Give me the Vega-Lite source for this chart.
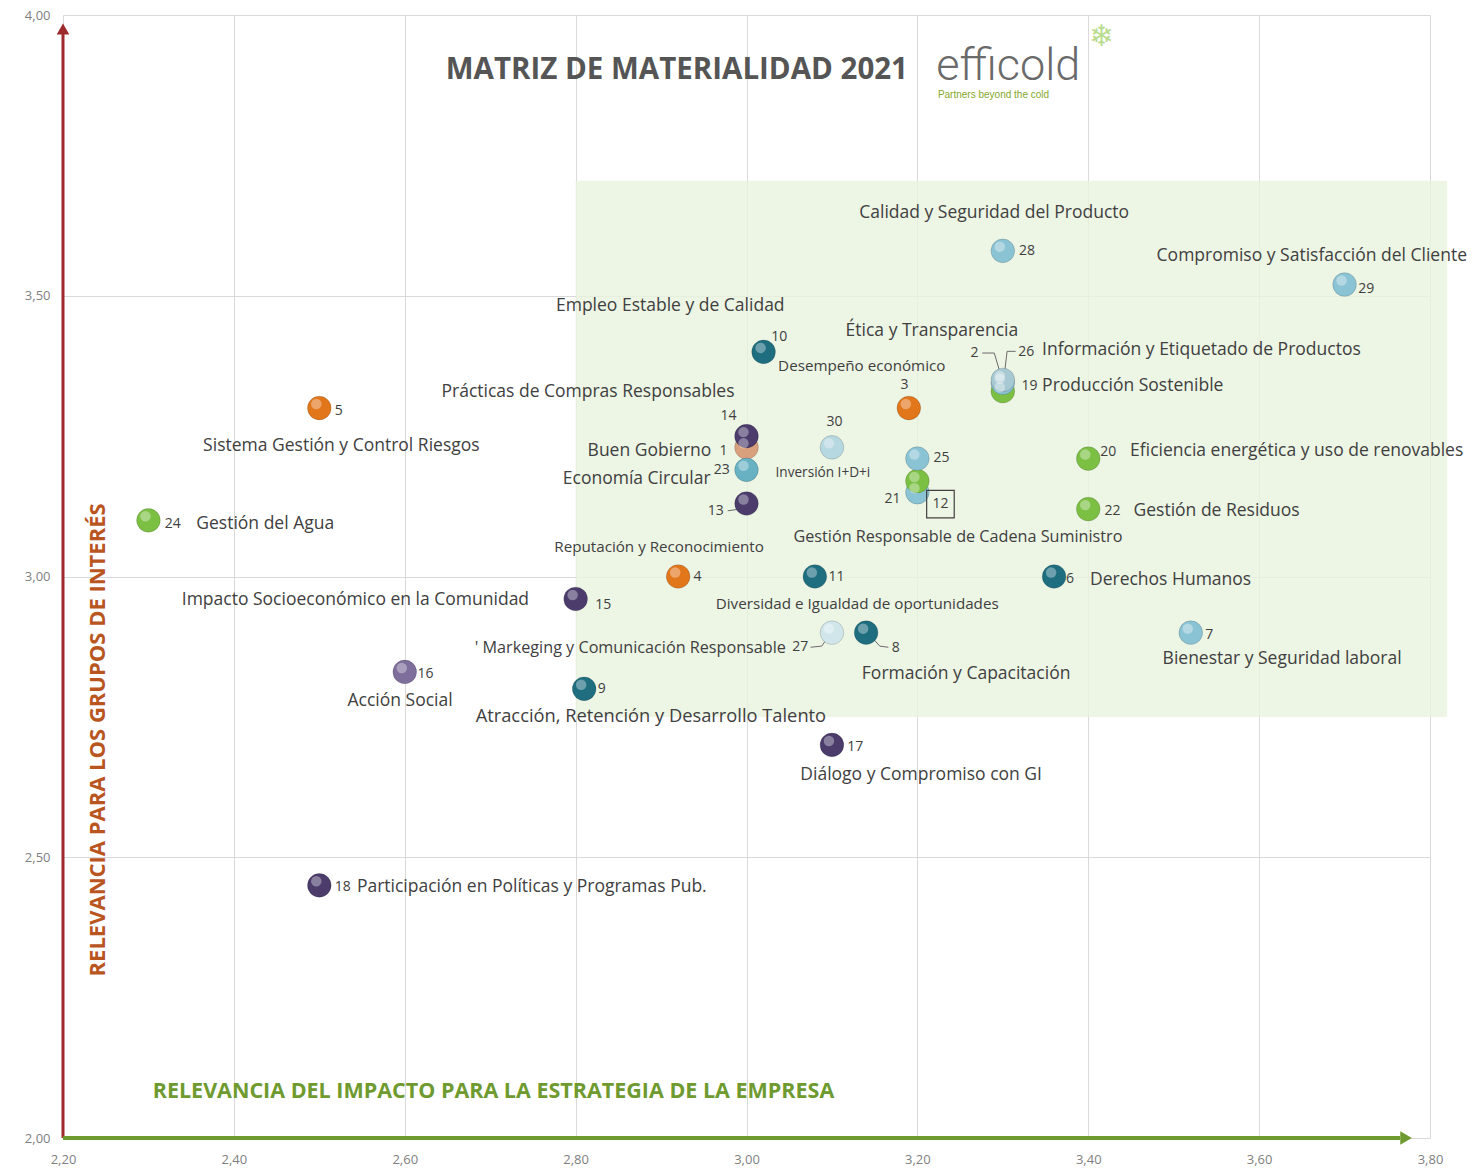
{
  "$schema": "https://vega.github.io/schema/vega-lite/v6.json",
  "width": 1367,
  "height": 1123,
  "autosize": {"type": "none"},
  "padding": {"left": 63, "top": 15, "right": 45, "bottom": 33},
  "background": "white",
  "config": {"view": {"stroke": null}},
  "datasets": {
    "zona": [{"x": 2.8, "x2": 3.82, "y": 2.75, "y2": 3.705}],
    "eje_y": [{"x": 2.2, "y": 2.0, "y2": 3.97}],
    "punta_y": [{"x": 2.2, "y": 3.975}],
    "eje_x": [{"x": 2.2, "x2": 3.765, "y": 2.0}],
    "punta_x": [{"x": 3.772, "y": 2.0}],
    "temas": [
      {"num": 1, "x": 3.00, "y": 3.23, "dim": "Gobernanza"},
      {"num": 19, "x": 3.30, "y": 3.33, "dim": "Ambiental"},
      {"num": 2, "x": 3.30, "y": 3.345, "dim": "Producto"},
      {"num": 26, "x": 3.30, "y": 3.35, "dim": "Etiquetado"},
      {"num": 12, "x": 3.20, "y": 3.15, "dim": "Producto"},
      {"num": 21, "x": 3.20, "y": 3.17, "dim": "Ambiental"},
      {"num": 3, "x": 3.19, "y": 3.30, "dim": "Económica"},
      {"num": 4, "x": 2.92, "y": 3.00, "dim": "Económica"},
      {"num": 5, "x": 2.50, "y": 3.30, "dim": "Económica"},
      {"num": 6, "x": 3.36, "y": 3.00, "dim": "Laboral"},
      {"num": 7, "x": 3.52, "y": 2.90, "dim": "Producto"},
      {"num": 8, "x": 3.14, "y": 2.90, "dim": "Laboral"},
      {"num": 9, "x": 2.81, "y": 2.80, "dim": "Laboral"},
      {"num": 10, "x": 3.02, "y": 3.40, "dim": "Laboral"},
      {"num": 11, "x": 3.08, "y": 3.00, "dim": "Laboral"},
      {"num": 13, "x": 3.00, "y": 3.13, "dim": "Social"},
      {"num": 14, "x": 3.00, "y": 3.25, "dim": "Social"},
      {"num": 23, "x": 3.00, "y": 3.19, "dim": "Circular"},
      {"num": 15, "x": 2.80, "y": 2.96, "dim": "Social"},
      {"num": 16, "x": 2.60, "y": 2.83, "dim": "Comunidad"},
      {"num": 17, "x": 3.10, "y": 2.70, "dim": "Social"},
      {"num": 18, "x": 2.50, "y": 2.45, "dim": "Social"},
      {"num": 20, "x": 3.40, "y": 3.21, "dim": "Ambiental"},
      {"num": 22, "x": 3.40, "y": 3.12, "dim": "Ambiental"},
      {"num": 24, "x": 2.30, "y": 3.10, "dim": "Ambiental"},
      {"num": 25, "x": 3.20, "y": 3.21, "dim": "Producto"},
      {"num": 27, "x": 3.10, "y": 2.90, "dim": "Cliente"},
      {"num": 28, "x": 3.30, "y": 3.58, "dim": "Producto"},
      {"num": 29, "x": 3.70, "y": 3.52, "dim": "Producto"},
      {"num": 30, "x": 3.10, "y": 3.23, "dim": "Innovación"}
    ],
    "guias": [
      {"id": "g2", "o": 1, "x": 3.276, "y": 3.398},
      {"id": "g2", "o": 2, "x": 3.290, "y": 3.398},
      {"id": "g2", "o": 3, "x": 3.297, "y": 3.362},
      {"id": "g26", "o": 1, "x": 3.315, "y": 3.401},
      {"id": "g26", "o": 2, "x": 3.305, "y": 3.401},
      {"id": "g26", "o": 3, "x": 3.302, "y": 3.362},
      {"id": "g13", "o": 1, "x": 2.978, "y": 3.117},
      {"id": "g13", "o": 2, "x": 2.992, "y": 3.120},
      {"id": "g27", "o": 1, "x": 3.075, "y": 2.874},
      {"id": "g27", "o": 2, "x": 3.088, "y": 2.876},
      {"id": "g27", "o": 3, "x": 3.096, "y": 2.893},
      {"id": "g8", "o": 1, "x": 3.166, "y": 2.874},
      {"id": "g8", "o": 2, "x": 3.156, "y": 2.876},
      {"id": "g8", "o": 3, "x": 3.146, "y": 2.893}
    ],
    "nombres": [
      {"t": "Calidad y Seguridad del Producto", "x": 3.132, "y": 3.647},
      {"t": "Compromiso y Satisfacción del Cliente", "x": 3.480, "y": 3.571},
      {"t": "Empleo Estable y de Calidad", "x": 2.777, "y": 3.482},
      {"t": "Ética y Transparencia", "x": 3.116, "y": 3.437},
      {"t": "Información y Etiquetado de Productos", "x": 3.346, "y": 3.403},
      {"t": "Producción Sostenible", "x": 3.346, "y": 3.339},
      {"t": "Prácticas de Compras Responsables", "x": 2.643, "y": 3.329},
      {"t": "Sistema Gestión y Control Riesgos", "x": 2.364, "y": 3.232},
      {"t": "Buen Gobierno", "x": 2.814, "y": 3.224},
      {"t": "Eficiencia energética y uso de renovables", "x": 3.449, "y": 3.224},
      {"t": "Economía Circular", "x": 2.785, "y": 3.174},
      {"t": "Gestión del Agua", "x": 2.356, "y": 3.094},
      {"t": "Gestión de Residuos", "x": 3.453, "y": 3.117},
      {"t": "Derechos Humanos", "x": 3.402, "y": 2.994},
      {"t": "Impacto Socioeconómico en la Comunidad", "x": 2.339, "y": 2.958},
      {"t": "Bienestar y Seguridad laboral", "x": 3.487, "y": 2.853},
      {"t": "Formación y Capacitación", "x": 3.135, "y": 2.826},
      {"t": "Acción Social", "x": 2.533, "y": 2.778},
      {"t": "Diálogo y Compromiso con GI", "x": 3.063, "y": 2.646},
      {"t": "Participación en Políticas y Programas Pub.", "x": 2.544, "y": 2.447}
    ],
    "nombres_grandes": [
      {"t": "Atracción, Retención y Desarrollo Talento", "x": 2.683, "y": 2.750}
    ],
    "nombres_medianos": [
      {"t": "Gestión Responsable de Cadena Suministro", "x": 3.055, "y": 3.070},
      {"t": "' Markeging y Comunicación Responsable", "x": 2.682, "y": 2.873}
    ],
    "nombres_peq": [
      {"t": "Desempeño económico", "x": 3.037, "y": 3.375},
      {"t": "Reputación y Reconocimiento", "x": 2.775, "y": 3.053},
      {"t": "Diversidad e Igualdad de oportunidades", "x": 2.964, "y": 2.951}
    ],
    "nombres_min": [
      {"t": "Inversión I+D+i", "x": 3.034, "y": 3.184}
    ],
    "numeros_izq": [
      {"t": "28", "x": 3.319, "y": 3.580},
      {"t": "29", "x": 3.716, "y": 3.512},
      {"t": "10", "x": 3.029, "y": 3.427},
      {"t": "26", "x": 3.318, "y": 3.400},
      {"t": "19", "x": 3.322, "y": 3.339},
      {"t": "5", "x": 2.518, "y": 3.295},
      {"t": "25", "x": 3.219, "y": 3.211},
      {"t": "20", "x": 3.414, "y": 3.222},
      {"t": "24", "x": 2.319, "y": 3.094},
      {"t": "22", "x": 3.419, "y": 3.117},
      {"t": "4", "x": 2.938, "y": 2.999},
      {"t": "11", "x": 3.096, "y": 2.999},
      {"t": "6", "x": 3.374, "y": 2.996},
      {"t": "15", "x": 2.823, "y": 2.949},
      {"t": "7", "x": 3.537, "y": 2.896},
      {"t": "8", "x": 3.170, "y": 2.873},
      {"t": "16", "x": 2.615, "y": 2.826},
      {"t": "9", "x": 2.826, "y": 2.800},
      {"t": "17", "x": 3.118, "y": 2.696},
      {"t": "18", "x": 2.518, "y": 2.447}
    ],
    "numeros_centro": [
      {"t": "2", "x": 3.267, "y": 3.398},
      {"t": "3", "x": 3.185, "y": 3.341},
      {"t": "14", "x": 2.979, "y": 3.286},
      {"t": "30", "x": 3.103, "y": 3.275},
      {"t": "1", "x": 2.973, "y": 3.224},
      {"t": "23", "x": 2.971, "y": 3.190},
      {"t": "21", "x": 3.171, "y": 3.138},
      {"t": "12", "x": 3.227, "y": 3.129},
      {"t": "13", "x": 2.964, "y": 3.117},
      {"t": "27", "x": 3.063, "y": 2.874}
    ],
    "caja": [{"x": 3.227, "y": 3.129}],
    "titulo": [{"t": "MATRIZ DE MATERIALIDAD 2021", "x": 2.648, "y": 3.902}],
    "marca": [{"t": "efficold", "x": 3.222, "y": 3.910}],
    "lema": [{"t": "Partners beyond the cold", "x": 3.224, "y": 3.857}],
    "copo": [{"t": "❄", "x": 3.416, "y": 3.961}],
    "titulo_y": [{"t": "RELEVANCIA PARA LOS GRUPOS DE INTERÉS", "x": 2.241, "y": 2.709}],
    "titulo_x": [{"t": "RELEVANCIA DEL IMPACTO PARA LA ESTRATEGIA DE LA EMPRESA", "x": 2.305, "y": 2.082}]
  },
  "encoding": {
    "x": {
      "field": "x", "type": "quantitative",
      "scale": {"domain": [2.2, 3.8], "nice": false, "zero": false},
      "axis": {
        "values": [2.2, 2.4, 2.6, 2.8, 3.0, 3.2, 3.4, 3.6, 3.8],
        "labelExpr": "replace(format(datum.value, '.2f'), '.', ',')",
        "title": null, "domain": false, "ticks": false, "labelFlush": false,
        "grid": true, "gridColor": "#d9d9d9", "gridWidth": 1,
        "labelColor": "#7f7f7f", "labelFont": "Open Sans", "labelFontSize": 13,
        "labelPadding": 15
      }
    },
    "y": {
      "field": "y", "type": "quantitative",
      "scale": {"domain": [2.0, 4.0], "nice": false, "zero": false},
      "axis": {
        "values": [2.0, 2.5, 3.0, 3.5, 4.0],
        "labelExpr": "replace(format(datum.value, '.2f'), '.', ',')",
        "title": null, "domain": false, "ticks": false, "labelFlush": false,
        "grid": true, "gridColor": "#d9d9d9", "gridWidth": 1,
        "labelColor": "#7f7f7f", "labelFont": "Open Sans", "labelFontSize": 13,
        "labelPadding": 13
      }
    }
  },
  "layer": [
    {
      "data": {"name": "zona"},
      "mark": {"type": "rect", "color": "#e9f2df", "opacity": 0.8},
      "encoding": {"x2": {"field": "x2"}, "y2": {"field": "y2"}}
    },
    {
      "data": {"name": "eje_y"},
      "mark": {"type": "rule", "color": "#9e2a2b", "strokeWidth": 3},
      "encoding": {"y2": {"field": "y2"}}
    },
    {
      "data": {"name": "punta_y"},
      "mark": {"type": "point", "shape": "triangle-up", "filled": true, "color": "#9e2a2b", "size": 160, "opacity": 1}
    },
    {
      "data": {"name": "eje_x"},
      "mark": {"type": "rule", "color": "#6e9a2f", "strokeWidth": 4},
      "encoding": {"x2": {"field": "x2"}}
    },
    {
      "data": {"name": "punta_x"},
      "mark": {"type": "point", "shape": "triangle-right", "filled": true, "color": "#6e9a2f", "size": 180, "opacity": 1}
    },
    {
      "data": {"name": "guias"},
      "mark": {"type": "line", "color": "#6b6b6b", "strokeWidth": 1},
      "encoding": {"detail": {"field": "id"}, "order": {"field": "o"}}
    },
    {
      "data": {"name": "temas"},
      "mark": {"type": "point", "filled": true, "size": 560, "opacity": 1, "stroke": "#000000", "strokeOpacity": 0.15, "strokeWidth": 1},
      "encoding": {
        "color": {
          "field": "dim", "type": "nominal", "legend": null,
          "scale": {
            "domain": ["Económica", "Gobernanza", "Social", "Comunidad", "Laboral", "Producto", "Circular", "Etiquetado", "Cliente", "Innovación", "Ambiental"],
            "range": ["#e2761b", "#d9a07e", "#4b3c6c", "#7d6e9b", "#1e6e80", "#8ac3d4", "#67b1c3", "#a7c9d3", "#d0e6ea", "#b6d8e0", "#7cc043"]
          }
        }
      }
    },
    {
      "data": {"name": "temas"},
      "mark": {"type": "point", "filled": true, "size": 110, "color": "#ffffff", "opacity": 0.35, "xOffset": -3, "yOffset": -4}
    },
    {
      "data": {"name": "caja"},
      "mark": {"type": "point", "shape": "square", "filled": false, "size": 760, "color": "#404040", "strokeWidth": 1.2, "opacity": 1}
    },
    {
      "data": {"name": "nombres"},
      "mark": {"type": "text", "align": "left", "baseline": "middle", "font": "Open Sans", "fontSize": 17.5, "color": "#404040"},
      "encoding": {"text": {"field": "t"}}
    },
    {
      "data": {"name": "nombres_grandes"},
      "mark": {"type": "text", "align": "left", "baseline": "middle", "font": "Open Sans", "fontSize": 18.3, "color": "#404040"},
      "encoding": {"text": {"field": "t"}}
    },
    {
      "data": {"name": "nombres_medianos"},
      "mark": {"type": "text", "align": "left", "baseline": "middle", "font": "Open Sans", "fontSize": 16.2, "color": "#404040"},
      "encoding": {"text": {"field": "t"}}
    },
    {
      "data": {"name": "nombres_peq"},
      "mark": {"type": "text", "align": "left", "baseline": "middle", "font": "Open Sans", "fontSize": 15.2, "color": "#404040"},
      "encoding": {"text": {"field": "t"}}
    },
    {
      "data": {"name": "nombres_min"},
      "mark": {"type": "text", "align": "left", "baseline": "middle", "font": "Open Sans", "fontSize": 13.6, "color": "#404040"},
      "encoding": {"text": {"field": "t"}}
    },
    {
      "data": {"name": "numeros_izq"},
      "mark": {"type": "text", "align": "left", "baseline": "middle", "font": "Open Sans", "fontSize": 14, "color": "#404040"},
      "encoding": {"text": {"field": "t"}}
    },
    {
      "data": {"name": "numeros_centro"},
      "mark": {"type": "text", "align": "center", "baseline": "middle", "font": "Open Sans", "fontSize": 14, "color": "#404040"},
      "encoding": {"text": {"field": "t"}}
    },
    {
      "data": {"name": "titulo"},
      "mark": {"type": "text", "align": "left", "baseline": "middle", "font": "Open Sans", "fontSize": 29.5, "fontWeight": "bold", "color": "#555555"},
      "encoding": {"text": {"field": "t"}}
    },
    {
      "data": {"name": "marca"},
      "mark": {"type": "text", "align": "left", "baseline": "middle", "font": "Roboto", "fontWeight": 300, "fontSize": 45, "color": "#6a6a6a"},
      "encoding": {"text": {"field": "t"}}
    },
    {
      "data": {"name": "lema"},
      "mark": {"type": "text", "align": "left", "baseline": "middle", "font": "Liberation Sans", "fontSize": 10, "color": "#86a82a"},
      "encoding": {"text": {"field": "t"}}
    },
    {
      "data": {"name": "copo"},
      "mark": {"type": "text", "align": "center", "baseline": "middle", "font": "DejaVu Sans", "fontSize": 30, "color": "#b9dc8e"},
      "encoding": {"text": {"field": "t"}}
    },
    {
      "data": {"name": "titulo_y"},
      "mark": {"type": "text", "align": "center", "baseline": "middle", "angle": 270, "font": "Open Sans", "fontSize": 22, "fontWeight": "bold", "color": "#b9561f"},
      "encoding": {"text": {"field": "t"}}
    },
    {
      "data": {"name": "titulo_x"},
      "mark": {"type": "text", "align": "left", "baseline": "middle", "font": "Open Sans", "fontSize": 21.5, "fontWeight": "bold", "color": "#6e9a2f"},
      "encoding": {"text": {"field": "t"}}
    }
  ]
}
